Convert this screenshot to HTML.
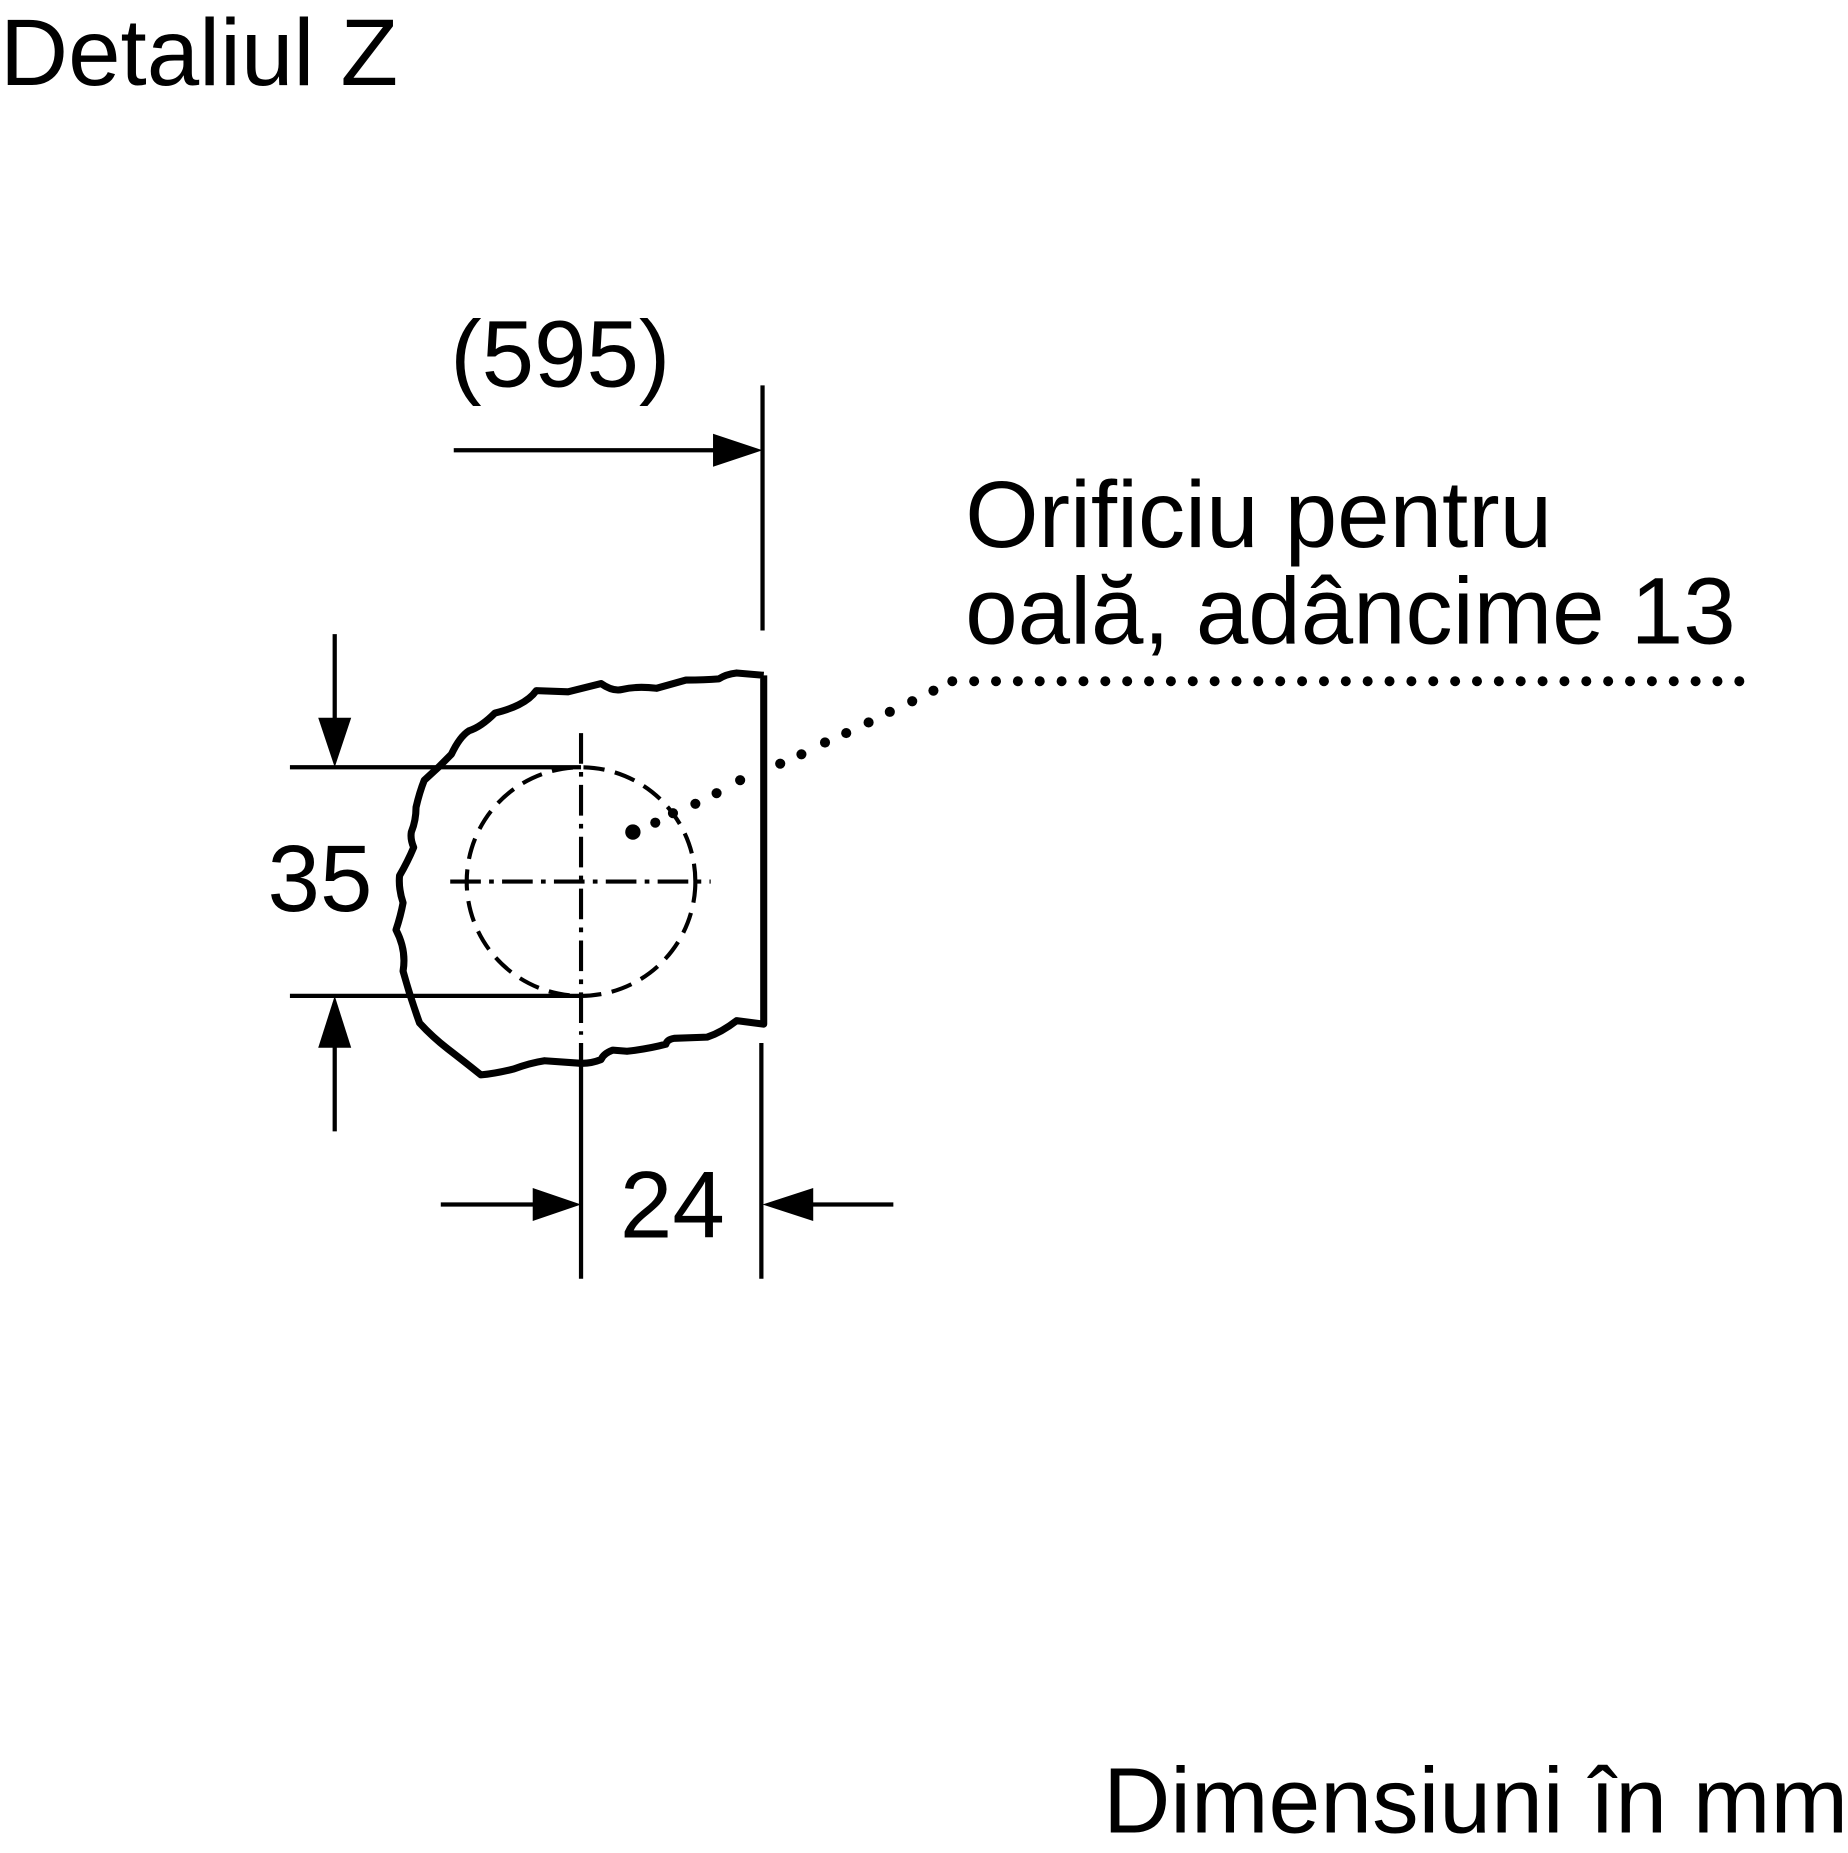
<!DOCTYPE html>
<html><head><meta charset="utf-8"><style>html,body{margin:0;padding:0;background:#fff}</style></head>
<body>
<svg width="1848" height="1848" viewBox="0 0 1568 1568" xmlns="http://www.w3.org/2000/svg" font-family="Liberation Sans, Arial, sans-serif">
<rect width="1568" height="1568" fill="#fff"/>
<text x="0" y="72" font-size="80">Detaliul Z</text>
<text x="382" y="328" font-size="80">(595)</text>
<text x="819" y="464" font-size="80">Orificiu pentru</text>
<text x="819" y="546" font-size="80">oală, adâncime 13</text>
<text x="227" y="773" font-size="80">35</text>
<text x="526" y="1050" font-size="80">24</text>
<text x="1568" y="1555" font-size="79" text-anchor="end">Dimensiuni în mm</text>
<g stroke="#000" stroke-width="3.6" fill="none">
<line x1="385" y1="382" x2="610" y2="382"/>
<line x1="647" y1="327" x2="647" y2="535"/>
<line x1="246" y1="651" x2="493" y2="651"/>
<line x1="246" y1="845" x2="493" y2="845"/>
<line x1="284" y1="538" x2="284" y2="612"/>
<line x1="284" y1="885" x2="284" y2="960"/>
<line x1="493" y1="885" x2="493" y2="1085"/>
<line x1="646" y1="885" x2="646" y2="1085"/>
<line x1="374" y1="1022" x2="455" y2="1022"/>
<line x1="688" y1="1022" x2="758" y2="1022"/>
</g>
<g fill="#000">
<polygon points="647,382 605,368 605,396"/>
<polygon points="284,651 270,609 298,609"/>
<polygon points="284,845 270,889 298,889"/>
<polygon points="493,1022 452,1008 452,1036"/>
<polygon points="647,1022 690,1008 690,1036"/>
<circle cx="537" cy="706" r="6.5"/>
</g>
<path d="M648,573 L648,869 L625,866 Q612,876 600,880 L572,881 Q566,882 565,886 Q550,890 532,892 L520,891 Q512,894 510,899 Q500,903 490,902 L462,900 Q449,902 436,907 Q420,911 408,912 Q393,900 380,890 Q367,880 356,868 Q348,846 342,824 Q345,806 336,789 Q340,777 342,766 Q338,754 339,743 Q346,731 351,719 Q348,712 349,706 Q353,696 353,685 Q356,672 360,662 L372,651 L383,640 Q390,625 398,620 Q408,617 420,605 Q432,602 440,598 Q450,593 455,586 L482,587 L510,580 Q520,587 528,585 Q540,582 557,584 L582,577 Q598,577 610,576 Q616,572 625,571 L648,573" stroke="#000" stroke-width="6" fill="none" stroke-linejoin="round"/>
<circle cx="493" cy="748" r="97" stroke="#000" stroke-width="3.5" fill="none" stroke-dasharray="18,9"/>
<g stroke="#000" stroke-width="3.5" stroke-dasharray="26,7,4,7">
<line x1="382" y1="748" x2="603" y2="748"/>
<line x1="493" y1="622" x2="493" y2="878"/>
</g>
<g fill="#000">
<circle cx="556" cy="698" r="4.3"/><circle cx="571" cy="690" r="4.3"/><circle cx="590" cy="682" r="4.3"/><circle cx="608" cy="673" r="4.3"/><circle cx="628" cy="662" r="4.3"/>
<circle cx="662" cy="648" r="4.3"/><circle cx="680" cy="640" r="4.3"/><circle cx="700" cy="630" r="4.3"/><circle cx="718" cy="622" r="4.3"/><circle cx="737" cy="613" r="4.3"/><circle cx="755" cy="604" r="4.3"/><circle cx="774" cy="595" r="4.3"/><circle cx="792" cy="586" r="4.3"/>
</g>
<line x1="808" y1="578" x2="1476" y2="578" stroke="#000" stroke-width="8.5" stroke-linecap="round" stroke-dasharray="0,18.55"/>
</svg>
</body></html>
